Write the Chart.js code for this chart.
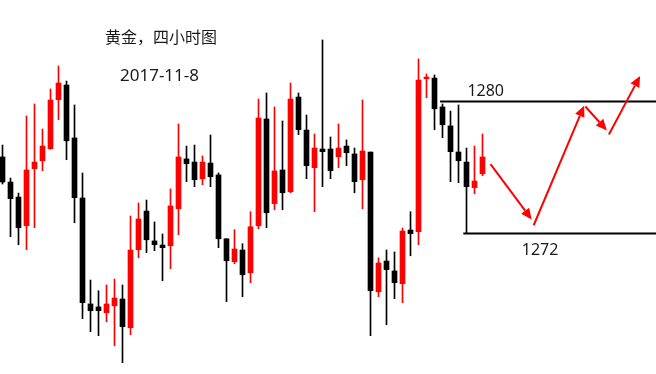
<!DOCTYPE html>
<html>
<head>
<meta charset="utf-8">
<script src="https://cdn.jsdelivr.net/npm/chart.js@4/dist/chart.umd.min.js"></script>
<style>
html,body{margin:0;padding:0;background:#fff;}
#wrap{width:656px;height:374px;}
</style>
</head>
<body>
<div id="wrap"><canvas id="c" width="656" height="374"></canvas></div>
<script>
// ---- data (4-hour gold candles) ----
const opens  = [1276.64,1275.12,1274.21,1272.47,1275.93,1276.41,1277.14,1280.11,1281.00,1277.79,
                1274.15,1267.73,1267.55,1267.20,1267.62,1268.03,1266.29,1271.02,1273.36,1271.55,
                1271.30,1271.26,1273.50,1276.52,1276.33,1275.32,1276.27,1275.55,1271.68,1270.29,
                1271.00,1269.62,1272.47,1278.94,1273.81,1275.85,1274.53,1280.27,1278.27,1275.99,
                1277.12,1277.12,1276.65,1277.30,1276.82,1275.26,1276.94,1268.47,1270.33,1269.73,
                1268.96,1272.21,1272.11,1281.38,1281.42,1279.67,1278.52,1276.94,1276.33,1274.78,1275.62];
const closes = [1275.12,1274.11,1272.35,1275.85,1276.33,1277.30,1280.09,1281.12,1277.62,1274.17,
                1267.81,1267.32,1267.32,1267.73,1268.09,1266.35,1271.00,1272.88,1271.62,1271.32,
                1271.14,1273.67,1276.64,1276.23,1275.26,1276.33,1275.44,1271.68,1270.35,1271.06,
                1269.50,1272.41,1279.00,1273.26,1275.79,1274.47,1280.15,1278.29,1276.11,1277.18,
                1276.96,1275.81,1277.18,1276.90,1275.14,1277.00,1268.53,1270.21,1269.81,1269.02,
                1272.15,1271.99,1281.30,1281.48,1279.56,1278.59,1276.96,1276.41,1274.84,1275.18,1276.64];
const highs  = [1277.36,1275.36,1274.45,1279.12,1279.85,1278.33,1280.76,1282.15,1281.24,1279.79,
                1275.67,1269.18,1268.53,1268.88,1269.24,1268.88,1273.06,1273.85,1274.03,1272.70,
                1271.97,1274.70,1278.64,1277.30,1277.36,1276.70,1277.97,1275.67,1271.68,1272.23,
                1271.38,1273.32,1280.15,1280.52,1279.67,1278.82,1281.12,1280.52,1279.18,1278.03,
                1283.73,1277.85,1278.64,1277.67,1277.18,1280.09,1276.94,1270.52,1271.00,1270.88,
                1272.33,1273.32,1282.58,1281.67,1281.61,1279.85,1279.42,1279.79,1277.18,1277.30,1278.03];
const lows   = [1275.00,1271.81,1271.32,1271.02,1272.35,1275.81,1277.10,1278.90,1276.47,1272.65,
                1266.84,1266.05,1265.81,1266.65,1265.20,1264.17,1265.87,1270.53,1270.84,1270.96,
                1269.14,1269.87,1271.93,1275.14,1274.84,1274.96,1274.84,1271.14,1267.87,1270.17,
                1268.17,1269.02,1272.29,1272.35,1273.44,1273.44,1274.47,1277.99,1275.32,1273.32,
                1274.84,1275.32,1275.99,1276.11,1274.47,1273.50,1265.81,1268.17,1266.47,1268.05,
                1267.81,1270.65,1271.32,1280.23,1278.29,1277.81,1275.14,1275.08,1271.99,1274.41,1275.50];

// support / resistance levels (price) and the candle index where each line begins
const levels      = [1280, 1272];
const levelStarts = [54.7, 57.6];
const levelLabels = ['1280', '1272'];
const levelLabelAt = [60.4, 67.2];

// forecast arrows: [fromIndex, fromPrice, toIndex, toPrice]
const arrowFromX = [61.0, 66.4, 72.85, 75.8];
const arrowFromY = [1276.2, 1272.5, 1279.7, 1278.0];
const arrowToX   = [66.15, 72.7, 75.55, 79.7];
const arrowToY   = [1272.85, 1279.75, 1278.25, 1281.55];

const titleText = '黄金，四小时图';
const dateText  = '2017-11-8';

// ---- build datasets ----
const UP = '#ff0000', DOWN = '#000000';
const colors = opens.map((o, i) => closes[i] >= o ? UP : DOWN);
const wickData = lows.map((l, i) => ({x: i, y: [l, highs[i]]}));
const bodyData = opens.map((o, i) => ({x: i, y: [o, closes[i]]}));
const X_MAX = 81.6875;

const levelSets = levels.map((lv, k) => ({
  type: 'line',
  data: [{x: levelStarts[k], y: lv}, {x: X_MAX, y: lv}],
  borderColor: '#000',
  borderWidth: 2,
  pointRadius: 0,
  fill: false
}));

const overlay = {
  id: 'overlay',
  afterDatasetsDraw(chart) {
    const {ctx, scales: {x, y}} = chart;
    ctx.save();
    // arrows
    ctx.strokeStyle = '#ff0000';
    ctx.fillStyle = '#ff0000';
    ctx.lineWidth = 2;
    for (let k = 0; k < arrowFromX.length; k++) {
      const x1 = x.getPixelForValue(arrowFromX[k]), y1 = y.getPixelForValue(arrowFromY[k]);
      const x2 = x.getPixelForValue(arrowToX[k]),   y2 = y.getPixelForValue(arrowToY[k]);
      const ang = Math.atan2(y2 - y1, x2 - x1);
      const head = 11, half = 5;
      const bx = x2 - head * Math.cos(ang), by = y2 - head * Math.sin(ang);
      ctx.beginPath();
      ctx.moveTo(x1, y1);
      ctx.lineTo(bx, by);
      ctx.stroke();
      ctx.beginPath();
      ctx.moveTo(x2, y2);
      ctx.lineTo(bx + half * Math.sin(ang), by - half * Math.cos(ang));
      ctx.lineTo(bx - half * Math.sin(ang), by + half * Math.cos(ang));
      ctx.closePath();
      ctx.fill();
    }
    // texts
    ctx.fillStyle = '#1a1a1a';
    ctx.textAlign = 'center';
    ctx.textBaseline = 'alphabetic';
    ctx.font = '16px "Noto Sans", "Noto Sans CJK SC", sans-serif';
    ctx.fillText(titleText, 161, 43);
    ctx.font = '17px "Noto Sans", "Noto Sans CJK SC", sans-serif';
    ctx.fillText(dateText, 159.5, 81);
    ctx.font = '16px "Noto Sans", "Noto Sans CJK SC", sans-serif';
    levels.forEach((lv, k) => {
      const px = x.getPixelForValue(levelLabelAt[k]);
      const py = y.getPixelForValue(lv) + (k === 0 ? -5.5 : 21.5);
      ctx.fillText(levelLabels[k], px, py);
    });
    ctx.restore();
  }
};

new Chart(document.getElementById('c'), {
  type: 'bar',
  data: {
    datasets: [
      {data: wickData, backgroundColor: colors, barThickness: 1, grouped: false, borderWidth: 0, borderSkipped: false},
      {data: bodyData, backgroundColor: colors, barThickness: 5, grouped: false, borderWidth: 0, borderSkipped: false, minBarLength: 1},
      ...levelSets
    ]
  },
  options: {
    responsive: false,
    animation: false,
    maintainAspectRatio: false,
    layout: {padding: 0},
    plugins: {legend: {display: false}, tooltip: {enabled: false}, title: {display: false}},
    scales: {
      x: {type: 'linear', min: -0.3125, max: X_MAX, offset: false, display: false},
      y: {min: 1263.485, max: 1286.152, display: false}
    }
  },
  plugins: [overlay]
});
</script>
</body>
</html>
